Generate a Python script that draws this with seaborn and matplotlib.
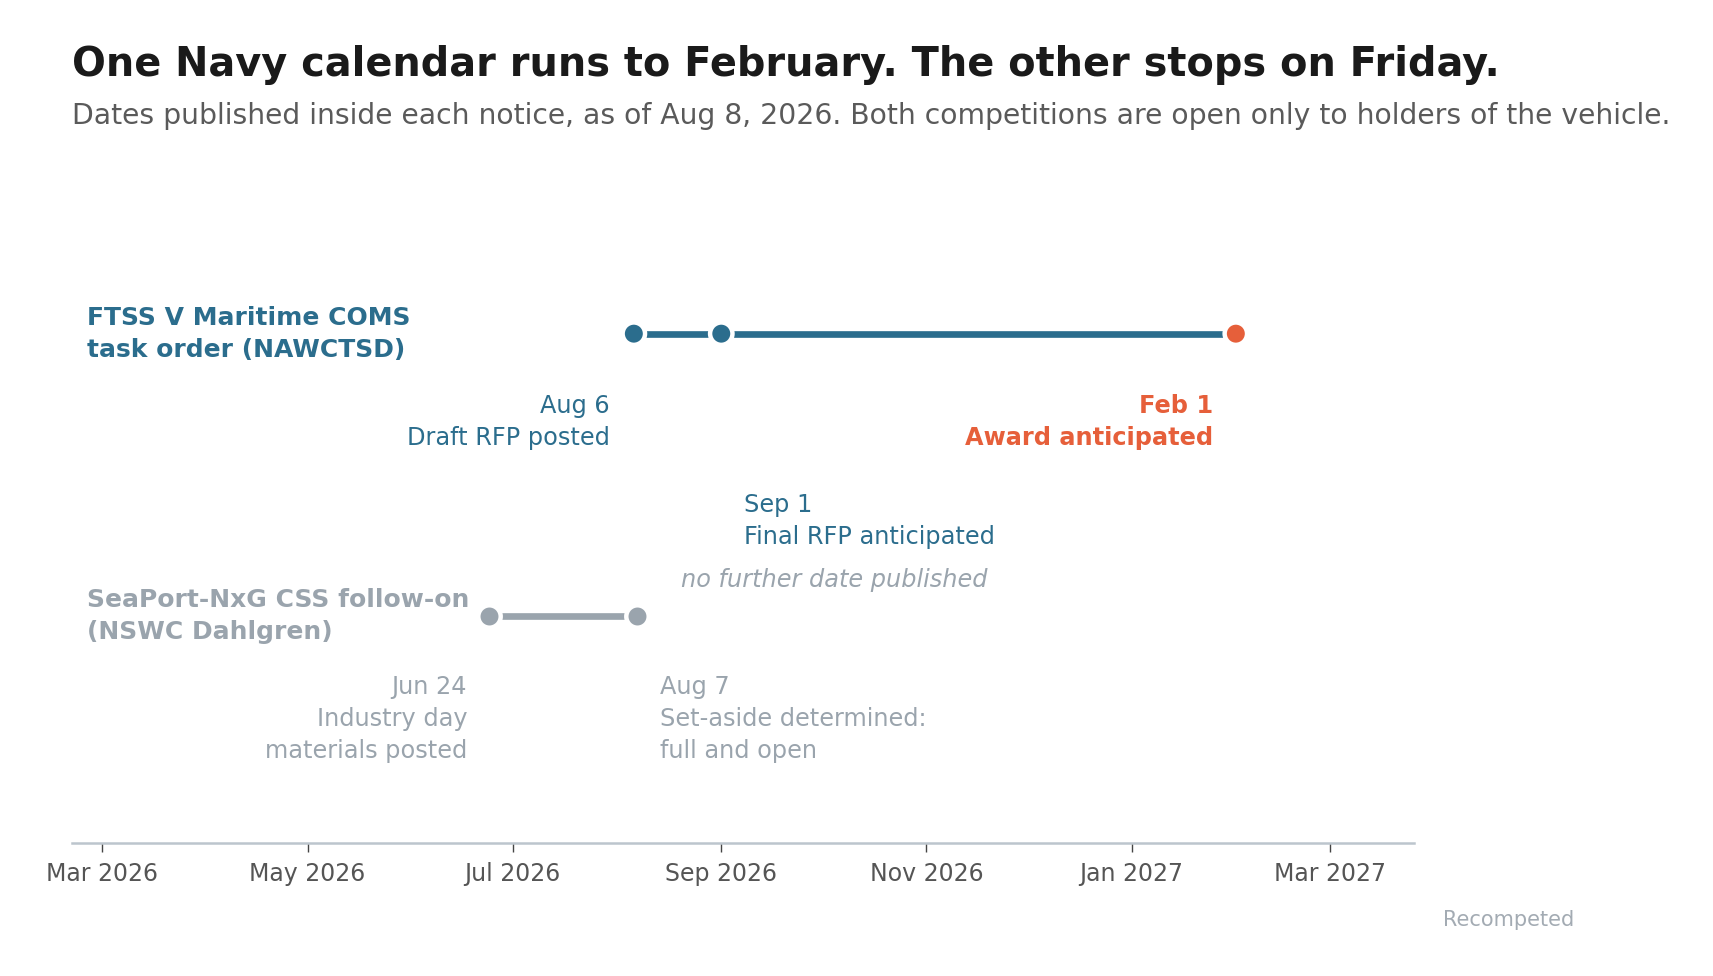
import pandas as pd
import matplotlib.pyplot as plt
import matplotlib.dates as mdates
import seaborn as sns

# FTSS V Maritime COMS task order (NAWCTSD)
ftss_datas = ["2026-08-06", "2026-09-01", "2027-02-01"]
ftss_dias = ["Aug 6", "Sep 1", "Feb 1"]
ftss_eventos = ["Draft RFP posted", "Final RFP anticipated", "Award anticipated"]

# SeaPort-NxG CSS follow-on (NSWC Dahlgren)
seaport_datas = ["2026-06-24", "2026-08-07"]
seaport_dias = ["Jun 24", "Aug 7"]
seaport_eventos = ["Industry day\nmaterials posted", "Set-aside determined:\nfull and open"]

programas = ["FTSS V Maritime COMS\ntask order (NAWCTSD)",
             "SeaPort-NxG CSS follow-on\n(NSWC Dahlgren)"]
nota_seaport = "no further date published"

titulo = "One Navy calendar runs to February. The other stops on Friday."
subtitulo = ("Dates published inside each notice, as of Aug 8, 2026. "
             "Both competitions are open only to holders of the vehicle.")
rodape = "Recompeted"

# Cores
AZUL = "#2b6d8d"
LARANJA = "#e65f3a"
CINZA = "#9aa4ad"

df_ftss = pd.DataFrame({"data": pd.to_datetime(ftss_datas), "linha": 1.0})
df_sea = pd.DataFrame({"data": pd.to_datetime(seaport_datas), "linha": 0.0})

sns.set_theme(style="white")
plt.rcParams["font.family"] = ["DejaVu Sans"]

fig = plt.figure(figsize=(17.13, 9.76), dpi=100)
ax = fig.add_axes([0.04215, 0.1358, 0.78335, 0.6798])

# Linhas do calendario
sns.lineplot(data=df_ftss, x="data", y="linha", color=AZUL, lw=4.8,
             estimator=None, ax=ax, solid_capstyle="butt", zorder=2)
sns.lineplot(data=df_sea, x="data", y="linha", color=CINZA, lw=4.8,
             estimator=None, ax=ax, solid_capstyle="butt", zorder=2)

# Marcadores (o ultimo da FTSS e a adjudicacao)
cores_ftss = [AZUL, AZUL, LARANJA]
sns.scatterplot(data=df_ftss, x="data", y="linha", c=cores_ftss, s=260,
                edgecolor="white", linewidth=3.2, ax=ax, zorder=3)
sns.scatterplot(data=df_sea, x="data", y="linha", color=CINZA, s=260,
                edgecolor="white", linewidth=3.2, ax=ax, zorder=3)

# Rotulos dos eventos (deslocamento em pixels)
desl_ftss = [(-24, -88, "right"), (23, -187, "left"), (-23, -88, "right")]
for i in range(len(ftss_datas)):
    dx, dy, ha = desl_ftss[i]
    cor = LARANJA if i == 2 else AZUL
    peso = "bold" if i == 2 else "normal"
    ax.annotate(f"{ftss_dias[i]}\n{ftss_eventos[i]}",
                xy=(df_ftss["data"][i], df_ftss["linha"][i]),
                xytext=(dx, dy), textcoords="offset pixels", linespacing=1.42,
                ha=ha, va="center", fontsize=17.3, color=cor, fontweight=peso)

desl_sea = [(-22, -103, "right"), (23, -103, "left")]
for i in range(len(seaport_datas)):
    dx, dy, ha = desl_sea[i]
    ax.annotate(f"{seaport_dias[i]}\n{seaport_eventos[i]}",
                xy=(df_sea["data"][i], df_sea["linha"][i]),
                xytext=(dx, dy), textcoords="offset pixels", linespacing=1.42,
                ha=ha, va="center", fontsize=17.3, color=CINZA)

ax.annotate(nota_seaport, xy=(df_sea["data"].iloc[-1], 0.0),
            xytext=(44, 36), textcoords="offset pixels",
            ha="left", va="center", fontsize=17.3, color=CINZA, style="italic")

# Nomes dos programas
for y, nome, cor in zip([1.0, 0.0], programas, [AZUL, CINZA]):
    ax.annotate(nome, xy=(0, y), xycoords=("axes fraction", "data"),
                xytext=(15, 0), textcoords="offset pixels", linespacing=1.42,
                ha="left", va="center", fontsize=18, fontweight="bold", color=cor)

# Eixos
ax.set_xlim(pd.Timestamp("2026-02-20"), pd.Timestamp("2027-03-26"))
ax.set_ylim(-0.806, 1.5445)
ax.xaxis.set_major_locator(mdates.MonthLocator(bymonth=[1, 3, 5, 7, 9, 11]))
ax.xaxis.set_major_formatter(mdates.DateFormatter("%b %Y"))
ax.set_yticks([])
ax.set_xlabel("")
ax.set_ylabel("")
for lado in ["top", "left", "right"]:
    ax.spines[lado].set_visible(False)
ax.spines["bottom"].set_color("#bcc5cd")
ax.spines["bottom"].set_linewidth(1.8)
ax.tick_params(axis="x", bottom=True, length=6.5, width=1, color="#444444",
               labelsize=17, labelcolor="#555555", pad=7)

# Titulos
fig.text(0.042, 0.9226, titulo, fontsize=28.7, fontweight="bold",
         color="#1a1a1a", va="baseline")
fig.text(0.042, 0.8734, subtitulo, fontsize=20.3, color="#5a5a5a", va="baseline")
fig.text(0.8425, 0.0512, rodape, fontsize=15, color="#a3abb3", va="baseline")

plt.savefig("out.png", dpi=100)
plt.close()
